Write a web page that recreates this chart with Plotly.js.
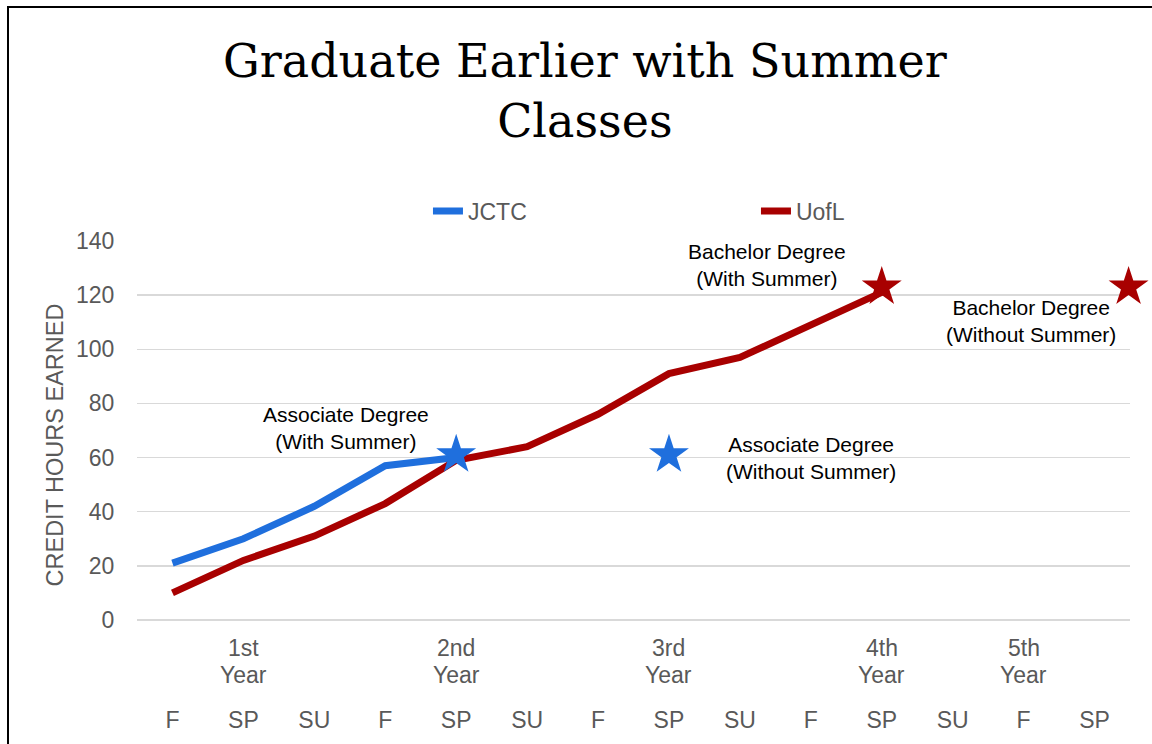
<!DOCTYPE html>
<html>
<head>
<meta charset="utf-8">
<script src="https://cdn.plot.ly/plotly-3.0.1.min.js"></script>
<style>
html,body{margin:0;padding:0;background:#fff;overflow:hidden;}
#chart{width:1152px;height:744px;}
#frame{position:absolute;left:7px;top:6px;width:1200px;height:800px;border-left:2px solid #000;border-top:2px solid #000;pointer-events:none;}
</style>
</head>
<body>
<div id="chart"></div>
<div id="frame"></div>
<script>
// ---- data ----
const terms = ["F","SP","SU","F","SP","SU","F","SP","SU","F","SP","SU","F","SP"];
const yearLabels = ["1st","2nd","3rd","4th","5th"];
const yearWord = "Year";
const yearTermIndex = [1,4,7,10,12];
const jctcValues = [21,30,42,57,60];
const uoflValues = [10,22,31,43,59,64,76,91,97,109,121];
const jctcStarIndex = [4,7];
const jctcStarValues = [61,61];
const uoflStarIndex = [10,13.48];
const uoflStarValues = [123,123];
const noteTexts = [
  "Associate Degree<br>(With Summer)",
  "Bachelor Degree<br>(With Summer)",
  "Bachelor Degree<br>(Without Summer)",
  "Associate Degree<br>(Without Summer)"
];
const noteX = [2.45,8.38,12.1,9.0];
const noteY = [71,131,110.5,59.7];

const idx = terms.map((_,i)=>i);
const blue = "#1f6fdd";
const red = "#a80000";
const grey = "#595959";
const sans = "Liberation Sans, Arial, sans-serif";

const traces = [
  {x: idx.slice(0,jctcValues.length), y: jctcValues, name:"JCTC", mode:"lines",
   line:{color:blue,width:7}},
  {x: idx.slice(0,uoflValues.length), y: uoflValues, name:"UofL", mode:"lines",
   line:{color:red,width:7}},
  {x: jctcStarIndex, y: jctcStarValues, mode:"markers", showlegend:false, cliponaxis:false,
   marker:{symbol:"star",size:30,color:blue}},
  {x: uoflStarIndex, y: uoflStarValues, mode:"markers", showlegend:false, cliponaxis:false,
   marker:{symbol:"star",size:30,color:red}}
];

const annotations = noteTexts.map((t,i)=>({
  x: noteX[i], y: noteY[i], xref:"x", yref:"y", text:t, showarrow:false,
  font:{family:sans,size:21,color:"#000"}, align:"center"
}));
yearLabels.forEach((t,i)=>{
  annotations.push({
    x: yearTermIndex[i], y: -0.0739, xref:"x", yref:"paper", text:t, showarrow:false,
    yanchor:"middle", font:{family:sans,size:23,color:grey}
  });
  annotations.push({
    x: yearTermIndex[i], y: -0.1451, xref:"x", yref:"paper", text:yearWord, showarrow:false,
    yanchor:"middle", font:{family:sans,size:23,color:grey}
  });
});
annotations.push({
  x: -0.083, y: 0.462, xref:"paper", yref:"paper", text:"CREDIT HOURS EARNED",
  textangle:-90, showarrow:false, xanchor:"center", yanchor:"middle",
  font:{family:sans,size:23.5,color:grey}
});
annotations.push({
  x: 0.451, y: 1.3958, xref:"paper", yref:"paper", text:"Graduate Earlier with Summer<br>Classes",
  showarrow:false, xanchor:"center", yanchor:"middle",
  font:{family:"DejaVu Serif, Georgia, serif", size:46, color:"#000"}
});

const layout = {
  width:1152, height:744,
  margin:{l:137,r:22,t:241,b:124},
  paper_bgcolor:"#fff", plot_bgcolor:"#fff",
  showlegend:true,
  legend:{orientation:"h", xref:"container", yref:"container",
    x:0.3715, xanchor:"left", y:0.7164, yanchor:"middle",
    entrywidth:283, entrywidthmode:"pixels",
    font:{family:sans,size:23,color:grey}},
  xaxis:{type:"linear", range:[-0.5,13.5], tickmode:"array", tickvals:idx, ticktext:terms,
    showgrid:false, zeroline:false, showline:false,
    ticks:"outside", ticklen:79, tickcolor:"rgba(0,0,0,0)",
    tickfont:{family:sans,size:23,color:grey}, fixedrange:true},
  yaxis:{range:[0,140], dtick:20, showgrid:true, gridcolor:"#d9d9d9", gridwidth:1.5,
    zeroline:true, zerolinecolor:"#d9d9d9", zerolinewidth:1.5, showline:false,
    ticks:"outside", ticklen:17, tickcolor:"rgba(0,0,0,0)",
    tickfont:{family:sans,size:23,color:grey}},
  annotations: annotations
};

Plotly.newPlot("chart", traces, layout, {displayModeBar:false, staticPlot:true});
</script>
</body>
</html>
